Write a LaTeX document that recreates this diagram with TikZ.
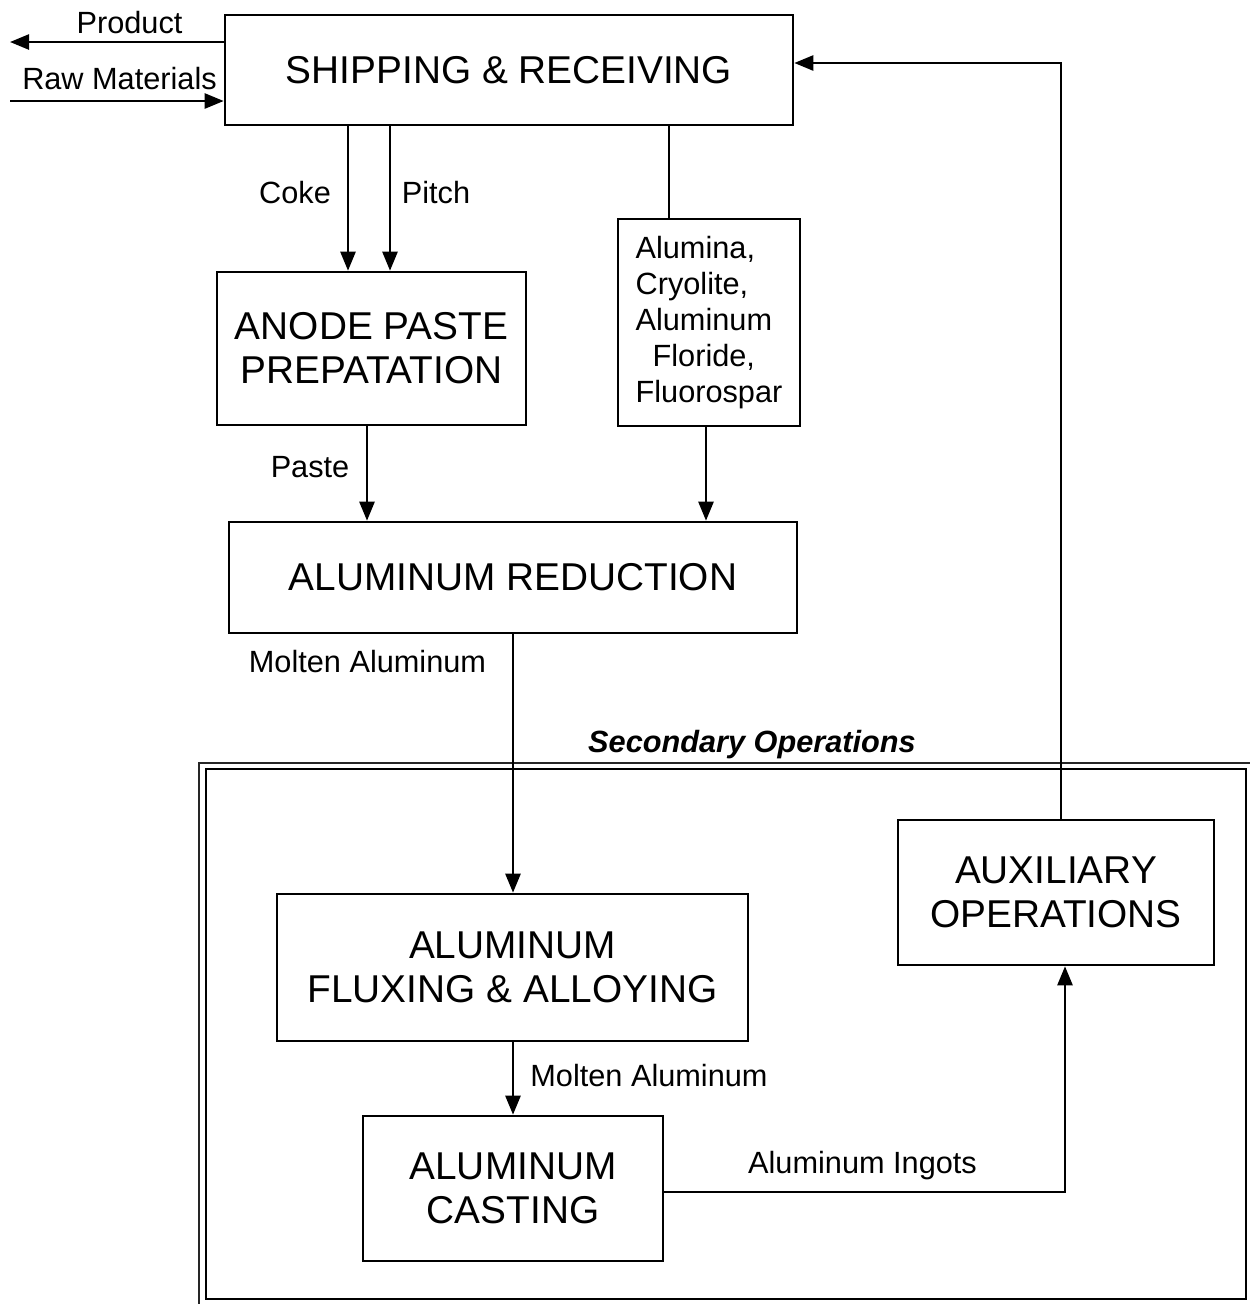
\documentclass[tikz,border=0pt]{standalone}
\usepackage{fontspec}
\setmainfont{Liberation Sans}
\usetikzlibrary{arrows.meta}
\begin{document}
\begin{tikzpicture}[x=1pt,y=-1pt,
  box/.style={draw, line width=2.6pt, rectangle, inner sep=0pt, align=center,
    font=\fontsize{38.8}{44}\selectfont},
  lbl/.style={anchor=base, inner sep=0pt, font=\fontsize{30.7}{36}\selectfont},
  conn/.style={line width=2.5pt},
  arr/.style={conn, -{Triangle[length=19pt 0 0,width=15pt 0 0]}}]
\useasboundingbox (0,0) rectangle (1250,1304);
\clip (0,0) rectangle (1250,1304);
% secondary operations frame
\draw[line width=1.6pt, black!85] (199,763) rectangle (1270,1320);
\draw[line width=1.6pt] (206,769) rectangle (1246,1299);
\node[lbl, font=\fontsize{30.7}{36}\selectfont\bfseries\itshape] (sec) at (752,752) {Secondary Operations};
% boxes
\node[box, minimum width=568pt, minimum height=110pt] (ship) at (509,70) {SHIPPING \& RECEIVING};
\node[box, minimum width=309pt, minimum height=153pt] (anode) at (371.5,348.5) {ANODE PASTE\\PREPATATION};
\node[box, minimum width=182pt, minimum height=207pt, align=left,
  font=\fontsize{30.7}{36}\selectfont] (alum) at (709,322.5)
  {Alumina,\\Cryolite,\\Aluminum\\\hspace*{17pt}Floride,\\Fluorospar};
\node[box, minimum width=568pt, minimum height=111pt] (red) at (513,577.5) {ALUMINUM REDUCTION};
\node[box, minimum width=471pt, minimum height=147pt] (flux) at (512.5,967.5) {ALUMINUM\\FLUXING \& ALLOYING};
\node[box, minimum width=300pt, minimum height=145pt] (cast) at (513,1188.5) {ALUMINUM\\CASTING};
\node[box, minimum width=316pt, minimum height=145pt] (aux) at (1056,892.5) {AUXILIARY\\OPERATIONS};
% coordinates
\coordinate (prodend) at (10,42);
\coordinate (rawstart) at (10,101);
\coordinate (ingc) at (1065,1192);
\coordinate (auxc) at (1061,63);
% connectors
\draw[arr] (ship.west |- prodend) -- (prodend);
\draw[arr] (rawstart) -- (ship.west |- rawstart);
\draw[arr] (ship.south -| 348,0) -- (anode.north -| 348,0);
\draw[arr] (ship.south -| 390,0) -- (anode.north -| 390,0);
\draw[conn] (ship.south -| 669,0) -- (alum.north -| 669,0);
\draw[arr] (anode.south -| 367,0) -- (red.north -| 367,0);
\draw[arr] (alum.south -| 706,0) -- (red.north -| 706,0);
\draw[arr] (red.south -| 513,0) -- (flux.north -| 513,0);
\draw[arr] (flux.south -| 513,0) -- (cast.north -| 513,0);
\draw[arr] (cast.east |- ingc) -- (ingc) -- (aux.south -| ingc);
\draw[arr] (aux.north -| auxc) -- (auxc) -- (ship.east |- auxc);
% labels
\node[lbl] (lprod) at (129.5,33) {Product};
\node[lbl] (lraw) at (119.5,89) {Raw Materials};
\node[lbl] (lcoke) at (295,203) {Coke};
\node[lbl] (lpitch) at (436,203) {Pitch};
\node[lbl] (lpaste) at (310,477) {Paste};
\node[lbl] (lmolt1) at (367.5,672) {Molten Aluminum};
\node[lbl] (lmolt2) at (649,1086) {Molten Aluminum};
\node[lbl] (ling) at (862.5,1173) {Aluminum Ingots};
\end{tikzpicture}
\end{document}
